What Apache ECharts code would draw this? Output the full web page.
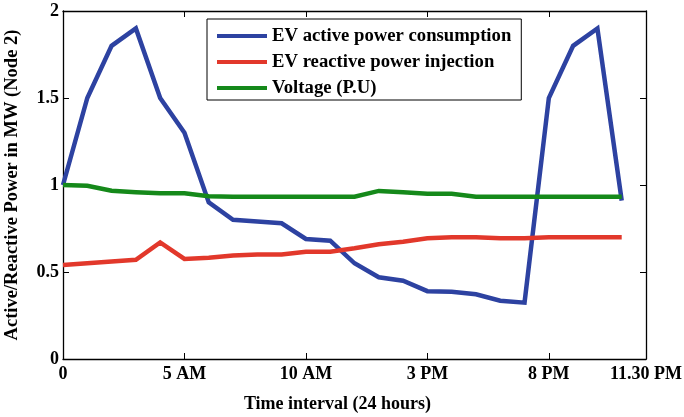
<!DOCTYPE html>
<html>
<head>
<meta charset="utf-8">
<script src="https://cdn.jsdelivr.net/npm/echarts@6/dist/echarts.min.js"></script>
<style>
  html, body { margin: 0; padding: 0; background: #fff; }
  #chart { width: 684px; height: 417px; }
</style>
</head>
<body>
<div id="chart"></div>
<script>
// hours 0..23
const hours = [0,1,2,3,4,5,6,7,8,9,10,11,12,13,14,15,16,17,18,19,20,21,22,23];
const activePower = [1.0,1.5,1.8,1.9,1.5,1.3,0.9,0.8,0.79,0.78,0.69,0.68,0.55,0.47,0.45,0.39,0.387,0.372,0.335,0.324,1.5,1.8,1.9,0.91];
const reactivePower = [0.54,0.55,0.56,0.57,0.67,0.575,0.582,0.595,0.6,0.6,0.617,0.617,0.636,0.659,0.674,0.694,0.699,0.699,0.694,0.694,0.699,0.7,0.7,0.7];
const voltage = [1.0,0.996,0.967,0.958,0.952,0.952,0.935,0.933,0.933,0.933,0.933,0.933,0.933,0.966,0.958,0.95,0.95,0.933,0.933,0.933,0.933,0.933,0.933,0.933];

const xTickValues = [0,5,10,15,20];
const xLabelValues = [0,5,10,15,20,24];
const xLabelTexts = ['0','5 AM','10 AM','3 PM','8 PM','11.30 PM'];
const yTickValues = [0,0.5,1,1.5,2];
const yLabelTexts = ['0','0.5','1','1.5','2'];

const seriesNames = ['EV active power consumption','EV reactive power injection','Voltage (P.U)'];
const seriesColors = ['#2d42a1','#e2382b','#15891a'];

const font = 'Liberation Serif, Times New Roman, serif';
const pairs = (ys) => hours.map((h, i) => [h, ys[i]]);

const chart = echarts.init(document.getElementById('chart'));

const axisLine = { show: true, onZero: false, lineStyle: { color: '#000', width: 1.3 } };
const tickStyle = { lineStyle: { color: '#000', width: 1 } };

chart.setOption({
    animation: false,
    backgroundColor: '#fff',
    grid: { left: 63, right: 38, top: 11, bottom: 58, outerBoundsMode: 'none', containLabel: false },
    legend: {
        orient: 'vertical',
        left: 207,
        top: 19,
        icon: 'rect',
        itemWidth: 50,
        itemHeight: 4,
        itemGap: 4,
        padding: [6, 10, 1, 10],
        borderColor: '#000',
        borderWidth: 1,
        backgroundColor: '#fff',
        textStyle: { fontFamily: font, fontWeight: 'bold', fontSize: 18.7, color: '#000', lineHeight: 22 },
        data: seriesNames
    },
    xAxis: [{
        type: 'value', min: 0, max: 24,
        axisLine: axisLine,
        splitLine: { show: false },
        axisTick: Object.assign({ inside: true, length: 6, customValues: xTickValues }, tickStyle),
        axisLabel: {
            customValues: xLabelValues,
            margin: 6,
            fontFamily: font, fontWeight: 'bold', fontSize: 18, color: '#000',
            formatter: (v) => xLabelTexts[xLabelValues.indexOf(v)]
        },
        name: 'Time interval (24 hours)',
        nameLocation: 'middle',
        nameGap: 36,
        nameTextStyle: { fontFamily: font, fontWeight: 'bold', fontSize: 18, color: '#000', padding: [0, 34, 0, 0] }
    }, {
        type: 'value', min: 0, max: 24, position: 'top',
        axisLine: axisLine,
        splitLine: { show: false },
        axisTick: Object.assign({ inside: true, length: 6, customValues: xTickValues }, tickStyle),
        axisLabel: { show: false }
    }],
    yAxis: [{
        type: 'value', min: 0, max: 2, interval: 0.5,
        axisLine: axisLine,
        splitLine: { show: false },
        axisTick: Object.assign({ inside: true, length: 6 }, tickStyle),
        axisLabel: {
            margin: 4,
            fontFamily: font, fontWeight: 'bold', fontSize: 18, color: '#000',
            formatter: (v) => yLabelTexts[yTickValues.indexOf(v)]
        },
        name: 'Active/Reactive Power in MW (Node 2)',
        nameLocation: 'middle',
        nameGap: 41,
        nameTextStyle: { fontFamily: font, fontWeight: 'bold', fontSize: 18.5, color: '#000' }
    }, {
        type: 'value', min: 0, max: 2, interval: 0.5, position: 'right',
        axisLine: axisLine,
        splitLine: { show: false },
        axisTick: Object.assign({ inside: true, length: 6 }, tickStyle),
        axisLabel: { show: false }
    }],
    series: [activePower, reactivePower, voltage].map((ys, i) => ({
        name: seriesNames[i],
        type: 'line',
        data: pairs(ys),
        symbol: 'none',
        color: seriesColors[i],
        lineStyle: { width: 4.5, color: seriesColors[i], join: 'miter' }
    }))
});
</script>
</body>
</html>
